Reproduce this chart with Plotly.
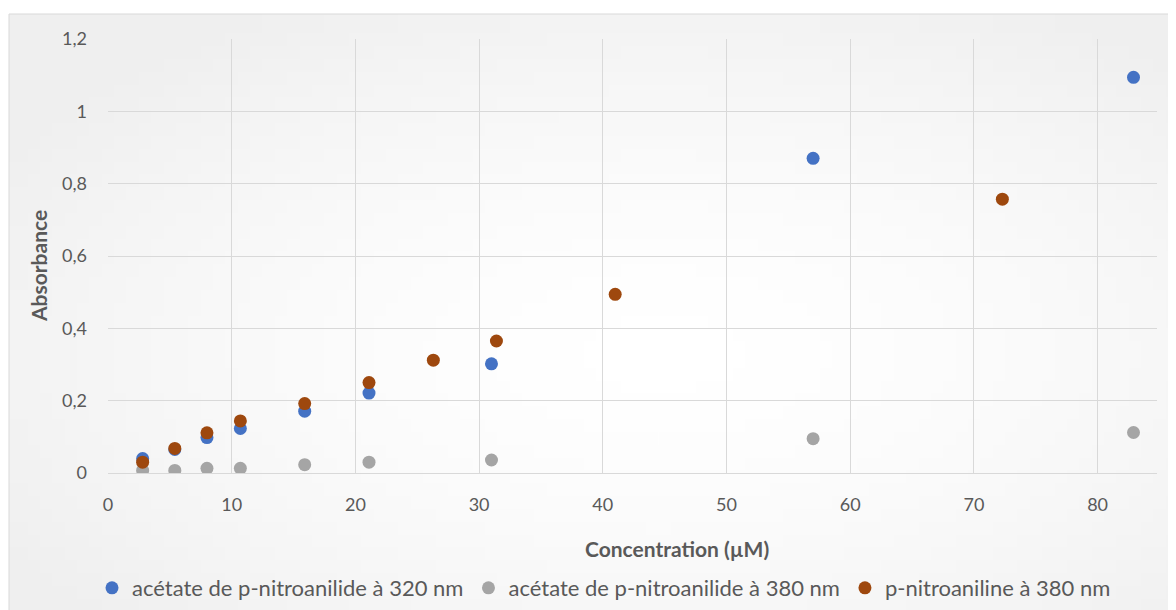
import plotly.graph_objects as go
import base64, zlib, struct

# ---- data ----
conc_acetate = [2.8, 5.4, 8.0, 10.7, 15.9, 21.1, 31.0, 57.0, 82.9]
abs_acetate_320 = [0.040, 0.065, 0.098, 0.123, 0.171, 0.221, 0.302, 0.870, 1.094]
abs_acetate_380 = [0.007, 0.007, 0.013, 0.013, 0.023, 0.030, 0.036, 0.095, 0.112]
conc_nitroaniline = [2.8, 5.4, 8.0, 10.7, 15.9, 21.1, 26.3, 31.4, 41.0, 72.3]
abs_nitroaniline_380 = [0.030, 0.068, 0.111, 0.144, 0.192, 0.250, 0.312, 0.365, 0.494, 0.757]

names = ["acétate de p-nitroanilide à 320 nm",
         "acétate de p-nitroanilide à 380 nm",
         "p-nitroaniline à 380 nm"]
colors = ["#4472C4", "#A5A5A5", "#9E480E"]

x_ticks = [0, 10, 20, 30, 40, 50, 60, 70, 80]
y_ticks = [0, 0.2, 0.4, 0.6, 0.8, 1.0, 1.2]
y_labels = ["0", "0,2", "0,4", "0,6", "0,8", "1", "1,2"]
x_title = "Concentration (µM)"
y_title = "Absorbance"

# ---- subtle radial gradient background as PNG ----
def gradient_png(w=96, h=48):
    rows = b""
    for j in range(h):
        row = b"\x00"
        for i in range(w):
            dx = (i + 0.5) / w - 0.55
            dy = (j + 0.5) / h - 0.55
            d = min(1.0, (dx * dx + dy * dy) ** 0.5 / 0.65)
            v = int(round(255 - 16 * d ** 1.6))
            row += bytes([v, v, v])
        rows += row
    def chunk(t, data):
        c = struct.pack(">I", len(data)) + t + data
        return c + struct.pack(">I", zlib.crc32(t + data) & 0xffffffff)
    png = b"\x89PNG\r\n\x1a\n"
    png += chunk(b"IHDR", struct.pack(">IIBBBBB", w, h, 8, 2, 0, 0, 0))
    png += chunk(b"IDAT", zlib.compress(rows))
    png += chunk(b"IEND", b"")
    return "data:image/png;base64," + base64.b64encode(png).decode()

FONT = "Lato, 'Open Sans', sans-serif"
GREY_TXT = "#595959"
GRID = "#D9D9D9"

fig = go.Figure()
series = [
    (conc_acetate, abs_acetate_320),
    (conc_acetate, abs_acetate_380),
    (conc_nitroaniline, abs_nitroaniline_380),
]
for (xs, ys), name, col in zip(series, names, colors):
    fig.add_trace(go.Scatter(
        x=xs, y=ys, mode="markers", name=name,
        marker=dict(color=col, size=13, line=dict(width=0)),
    ))

# the page body has an 8px margin, so screen coords = figure coords + 8
OFF = 8
W, H = 1176, 610
S_L, S_R, S_T, S_B = 108, 1157, 39, 473
L = S_L - OFF
T = S_T - OFF
R = W - (S_R - OFF)
B = H - (S_B - OFF)
pw, ph = W - L - R, H - T - B

def px_x(p):  # screen x -> paper fraction
    return (p - S_L) / pw

def px_y(p):  # screen y -> paper fraction
    return (S_B - p) / ph

fig.update_layout(
    width=W, height=H,
    margin=dict(l=L, r=R, t=T, b=B, autoexpand=False),
    paper_bgcolor="white",
    plot_bgcolor="rgba(0,0,0,0)",
    font=dict(family=FONT, color=GREY_TXT, size=18),
    showlegend=True,
    legend=dict(
        orientation="h",
        x=px_x(604), xanchor="center",
        y=px_y(588), yanchor="middle",
        font=dict(size=22, color=GREY_TXT),
        itemwidth=30,
        bgcolor="rgba(0,0,0,0)",
    ),
    images=[dict(
        source=gradient_png(),
        xref="paper", yref="paper",
        x=px_x(9), y=px_y(14),
        sizex=px_x(W + 20) - px_x(9), sizey=px_y(14) - px_y(H + 20),
        xanchor="left", yanchor="top",
        sizing="stretch", layer="below",
    )],
    shapes=[dict(
        type="rect", xref="paper", yref="paper",
        x0=px_x(9), x1=px_x(W + 20), y0=px_y(H + 20), y1=px_y(14),
        line=dict(color=GRID, width=1), fillcolor="rgba(0,0,0,0)",
        layer="below",
    )],
    annotations=[
        dict(text="<b>" + x_title + "</b>", xref="paper", yref="paper",
             x=px_x(677), y=px_y(548), xanchor="center", yanchor="middle",
             showarrow=False, font=dict(size=21, color=GREY_TXT)),
        dict(text="<b>" + y_title + "</b>", xref="paper", yref="paper",
             x=px_x(38), y=px_y(266), xanchor="center", yanchor="middle",
             textangle=-90, showarrow=False, font=dict(size=21, color=GREY_TXT)),
    ],
)

fig.update_xaxes(
    range=[0, 84.8],
    tickmode="array", tickvals=x_ticks,
    showgrid=True, gridcolor=GRID, gridwidth=1,
    zeroline=False, showline=False,
    ticks="", ticklabelstandoff=19,
    tickfont=dict(size=18, color=GREY_TXT),
)
fig.update_yaxes(
    range=[0, 1.2],
    tickmode="array", tickvals=y_ticks, ticktext=y_labels,
    showgrid=True, gridcolor=GRID, gridwidth=1,
    zeroline=True, zerolinecolor=GRID, zerolinewidth=1,
    showline=False,
    ticks="", ticklabelstandoff=20,
    tickfont=dict(size=18, color=GREY_TXT),
)

fig.write_html("out.html")
